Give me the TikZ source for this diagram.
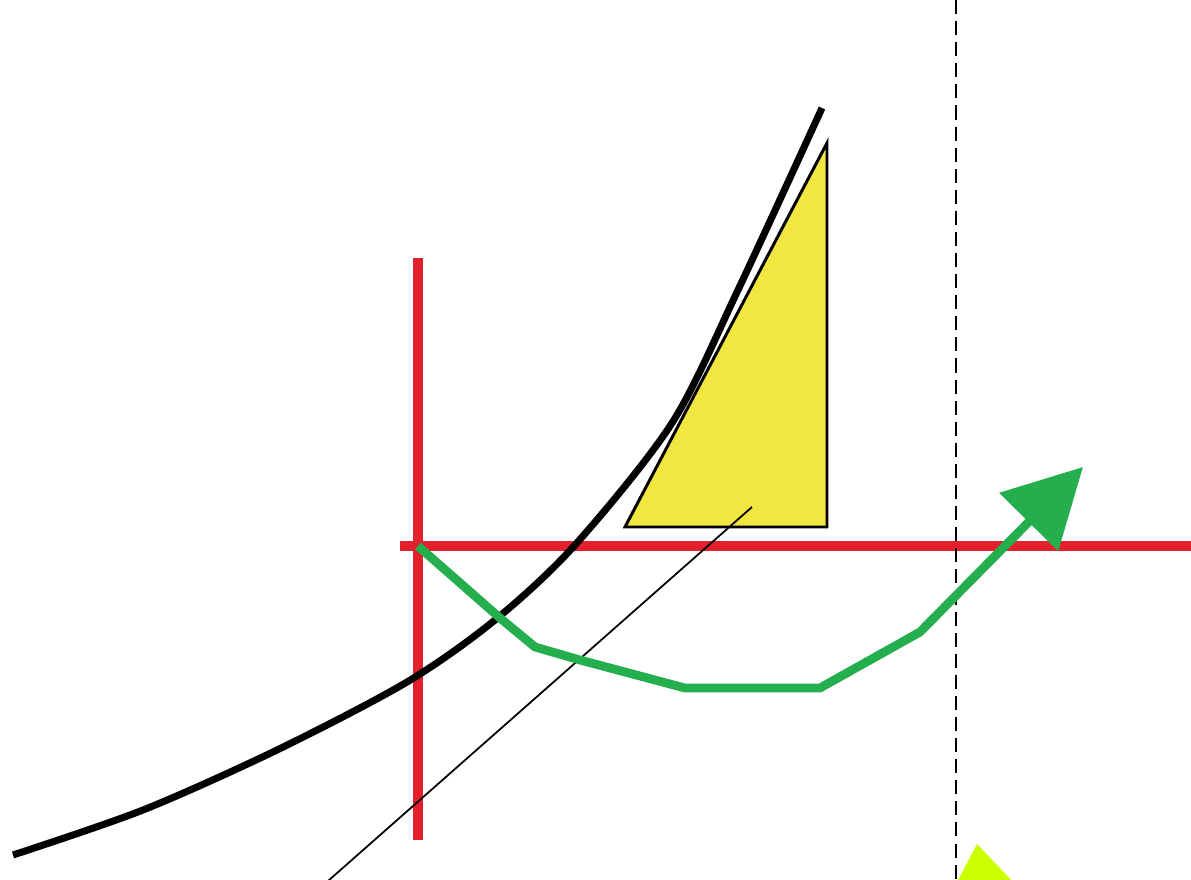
\documentclass[tikz,border=0pt]{standalone}
\usepackage{tikz}
\usetikzlibrary{calc, arrows.meta}

\definecolor{rosso}{HTML}{E3202B}
\definecolor{verde}{HTML}{24AE4E}
\definecolor{giallo}{HTML}{F2E640}
\definecolor{lime}{HTML}{CCFF00}

\begin{document}
\begin{tikzpicture}
    \useasboundingbox (0,0) rectangle (11.91,8.79);
    \clip (0,0) rectangle (11.91,8.79);

    % assi rossi
    \coordinate (O) at (4.18,3.33);
    \draw[rosso,line width=2.8pt] (4.18,6.21) -- (4.18,0.39);
    \draw[rosso,line width=2.8pt] (4.00,3.33) -- (11.95,3.33);

    % retta verticale tratteggiata
    \draw[line width=0.85pt,dash pattern=on 4pt off 2pt] (9.56,8.79) -- (9.56,0);

    % triangolo giallo
    \coordinate (A) at (6.25,3.52);
    \coordinate (B) at (8.27,3.52);
    \coordinate (C) at (8.27,7.36);
    \filldraw[fill=giallo,line width=0.85pt] (A) -- (B) -- (C) -- cycle;

    % retta sottile
    \draw[line width=0.5pt] (3.28,-0.02) -- (7.52,3.72);

    % curva
    \draw[line width=2pt] plot[smooth,tension=0.5] coordinates
        {(0.13,0.24) (1.43,0.69) (2.77,1.29) (4.07,1.97) (4.95,2.59)
         (5.75,3.34) (6.72,4.56) (7.38,5.89) (8.22,7.71)};

    % percorso verde
    \draw[verde,line width=2.5pt,line join=round,-{Triangle[length=22pt,width=23pt]}]
        (O) -- (5.00,2.61) -- (5.35,2.32) -- (5.80,2.19) -- (6.85,1.91)
        -- (8.20,1.91) -- (9.20,2.47) -- (10.83,4.12);

    % freccia in basso
    \fill[lime] (9.56,-0.05) -- (9.77,0.35) -- (10.15,-0.05) -- cycle;
\end{tikzpicture}
\end{document}
